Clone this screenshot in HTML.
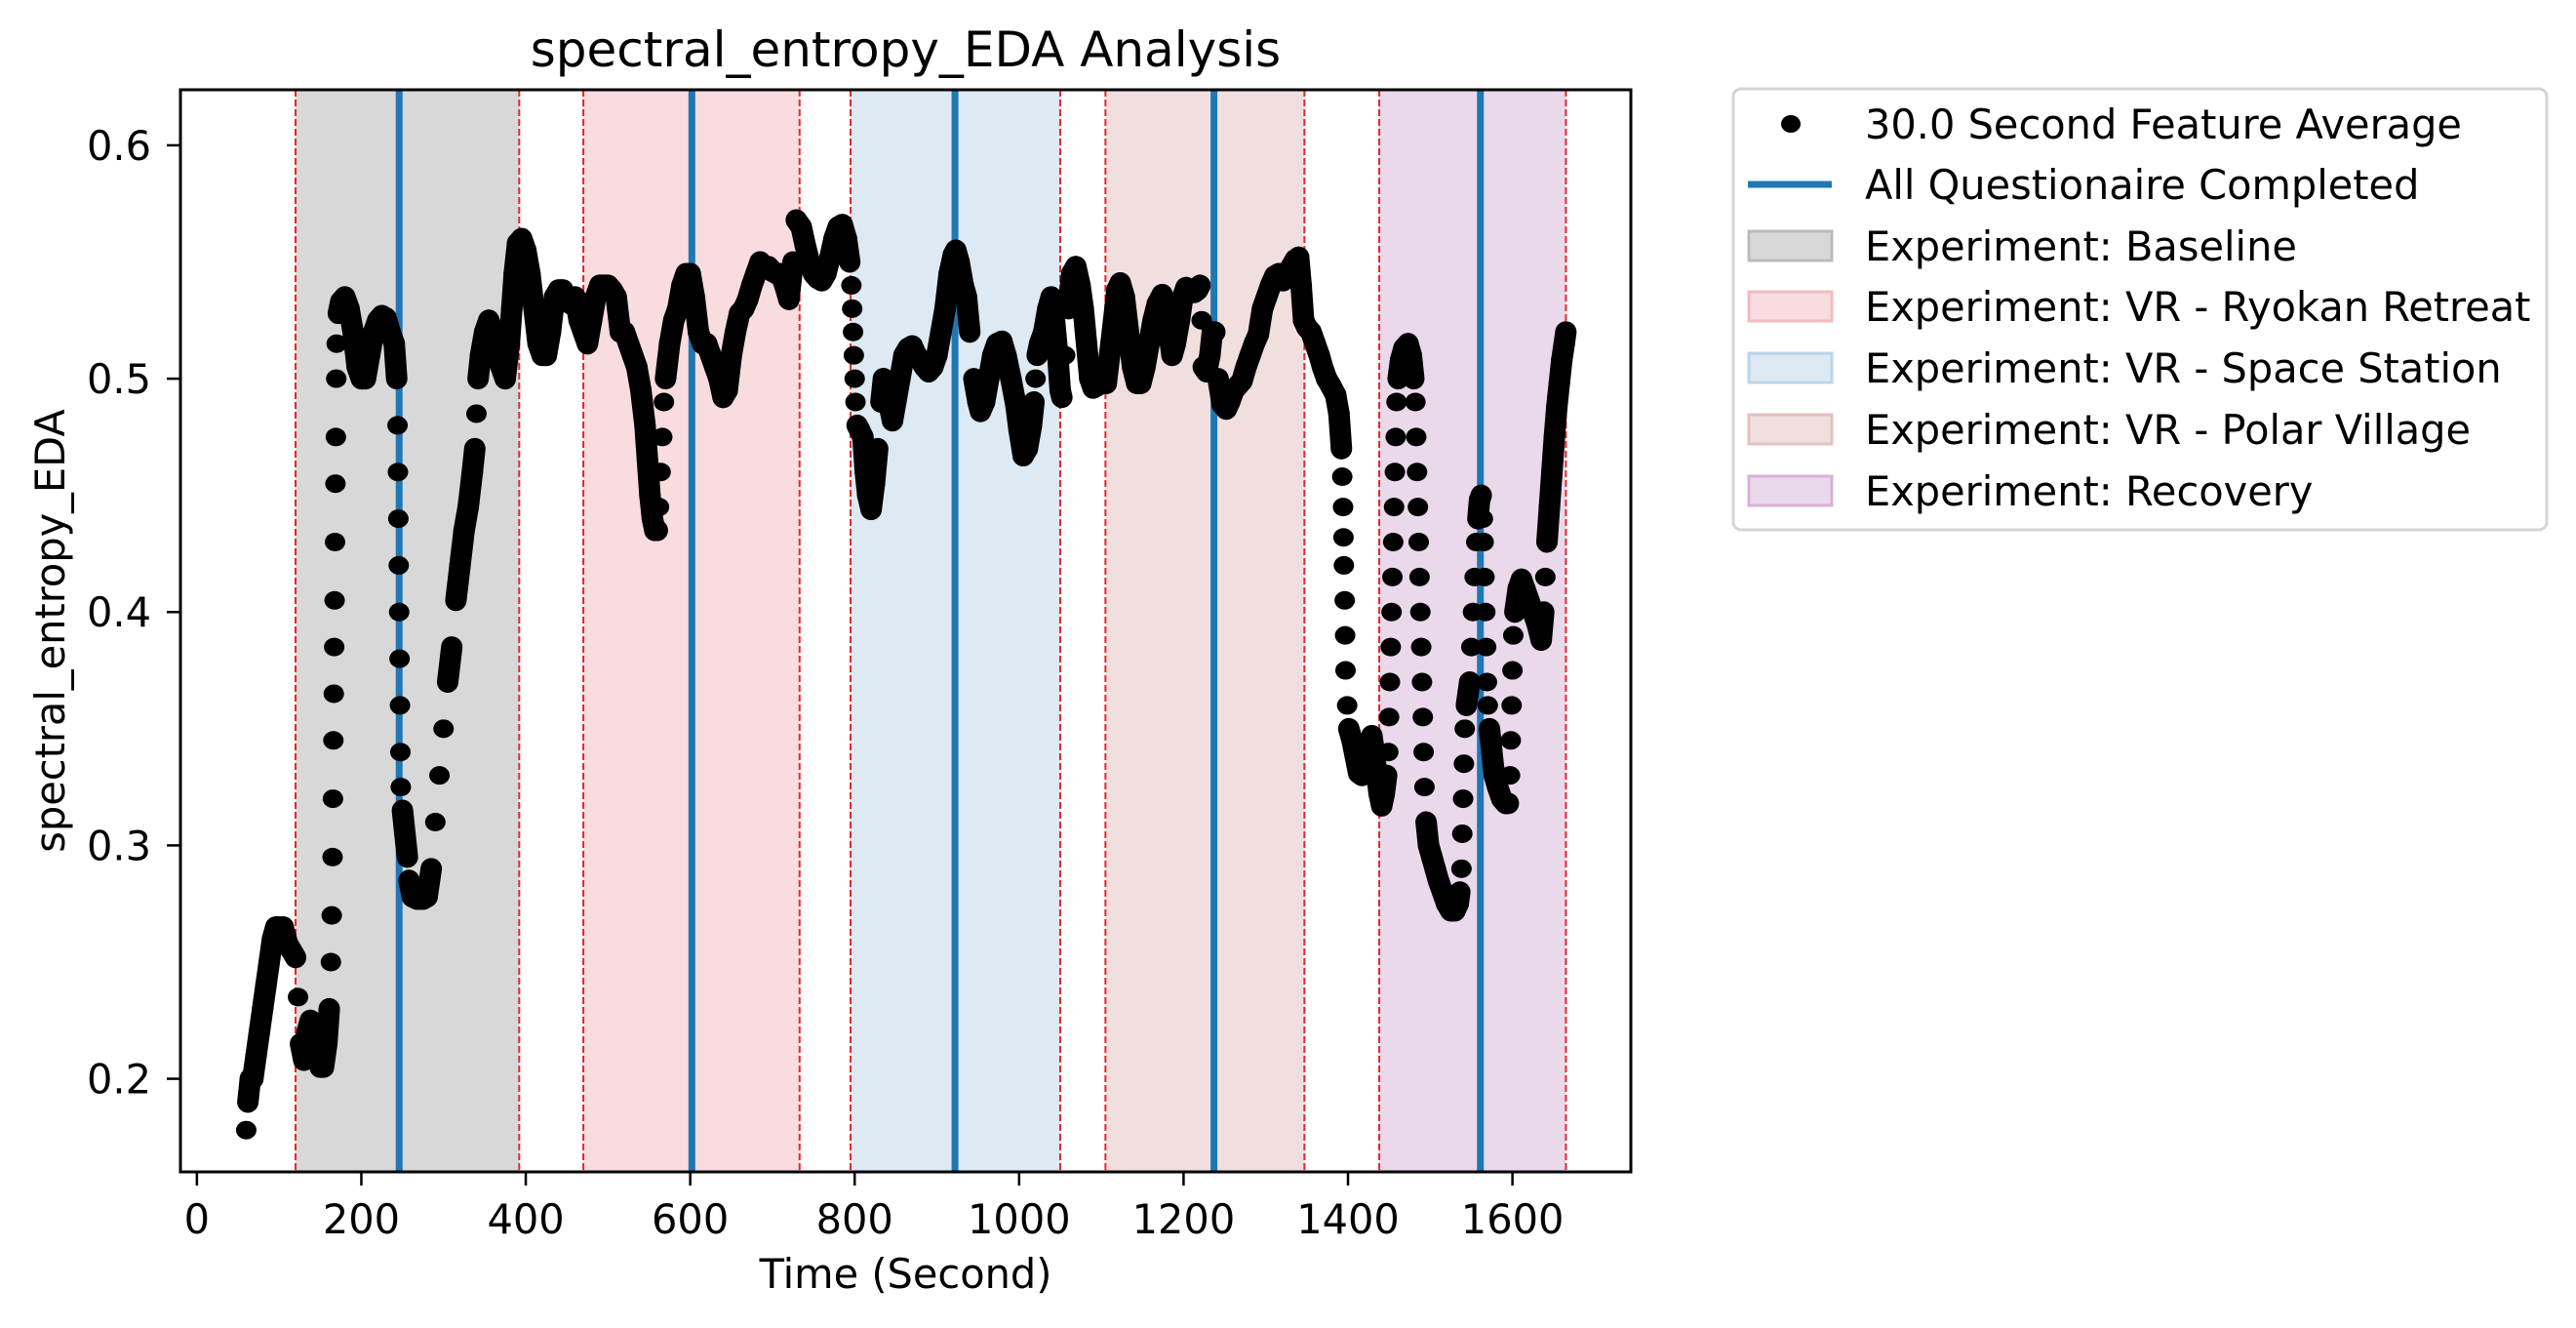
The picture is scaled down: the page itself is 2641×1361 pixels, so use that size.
<!DOCTYPE html>
<html><head><meta charset="utf-8"><style>
html,body{margin:0;padding:0;background:#fff;}
svg{display:block;font-family:"DejaVu Sans","Liberation Sans",sans-serif;}
</style></head><body>
<svg id="chart" width="2641" height="1361" viewBox="0 0 2641 1361" xmlns="http://www.w3.org/2000/svg">
<rect width="2641" height="1361" fill="#fff"/>
<g id="spans"></g><g id="vlines"></g><g id="points"></g><g id="axes"></g><g id="legend"></g>
</svg>
<script>
const times = [60,62,65,68,72,76,80,84,88,92,96,100,105,110,115,120,123,126,130,134,138,142,146,150,154,158,161,163,164,165,165.5,166,166.5,167,167.5,168,168.5,169,169.5,170,172,175,180,185,190,195,200,205,210,215,220,225,230,235,240,243,244,244.5,245,245.5,246,246.5,247,247.5,248,250,253,256,258,262,268,275,280,285,290,295,300,305,310,315,320,325,330,335,338,340,342,345,350,355,360,365,370,375,380,383,386,390,395,400,405,410,415,420,425,430,435,440,445,450,455,460,465,470,475,480,485,490,495,500,505,510,515,520,525,530,535,540,545,548,551,554,557,560,562,564,566,568,570,575,580,585,590,595,600,605,610,615,620,625,630,635,640,645,650,655,660,665,670,675,680,685,690,695,700,705,710,715,720,725,729,735,740,745,750,755,760,765,770,775,780,785,790,794,796,797,798,799,800,801,803,806,810,813,816,820,824,828,832,835,840,846,850,855,860,865,870,875,880,885,890,895,900,905,910,915,920,923,927,932,936,940,945,950,953,958,963,968,973,979,984,990,996,1000,1005,1010,1015,1018,1020,1022,1025,1030,1035,1039,1043,1047,1050,1052,1056,1060,1064,1069,1074,1078,1082,1086,1090,1095,1100,1106,1110,1115,1119,1123,1128,1133,1138,1143,1148,1153,1158,1163,1168,1174,1178,1182,1186,1190,1195,1199,1203,1208,1213,1217,1220,1222,1224,1228,1232,1235,1238,1242,1247,1252,1256,1261,1266,1271,1276,1281,1286,1291,1296,1301,1306,1311,1316,1321,1326,1331,1336,1340,1343,1346,1350,1355,1360,1365,1369,1374,1379,1385,1389,1392,1393,1394,1394.5,1395,1396,1396.5,1397,1399,1401,1405,1409,1413,1417,1421,1425,1429,1432,1435,1438,1441,1444,1447,1449,1450,1451,1452,1453,1454,1455,1456,1457,1458,1459,1461,1464,1468,1473,1477,1480,1482,1483,1484,1485,1486,1487,1488,1489,1490,1491,1492,1493,1495,1498,1502,1506,1510,1515,1520,1525,1530,1534,1536,1538,1539,1540,1541,1542,1544,1546,1548,1550,1552,1554,1556,1558,1560,1562,1564,1565,1566,1567,1568,1569,1570,1572,1575,1578,1582,1587,1592,1595,1597,1598,1599,1600,1601,1603,1607,1611,1615,1620,1625,1630,1635,1638,1640,1642,1645,1648,1651,1654,1657,1660,1663,1665];
const values = [.178,.19,.20,.20,.21,.22,.23,.24,.25,.26,.265,.265,.265,.258,.255,.252,.235,.215,.208,.22,.225,.21,.21,.205,.205,.215,.23,.25,.27,.295,.32,.345,.365,.385,.405,.43,.455,.475,.50,.515,.528,.533,.535,.53,.52,.505,.50,.50,.51,.52,.525,.527,.526,.52,.515,.50,.48,.46,.44,.42,.40,.38,.36,.34,.325,.315,.305,.295,.285,.278,.277,.277,.278,.29,.31,.33,.35,.37,.385,.405,.42,.435,.445,.46,.47,.485,.50,.51,.52,.525,.52,.51,.505,.50,.515,.53,.545,.558,.56,.555,.545,.53,.515,.51,.51,.52,.535,.538,.538,.535,.532,.535,.525,.52,.515,.525,.535,.54,.54,.54,.538,.535,.52,.52,.515,.51,.505,.495,.48,.465,.45,.44,.435,.435,.445,.46,.475,.49,.50,.515,.525,.53,.54,.545,.545,.535,.52,.515,.515,.51,.505,.50,.492,.495,.51,.52,.528,.53,.534,.54,.545,.55,.548,.548,.546,.545,.545,.54,.534,.55,.568,.565,.557,.55,.545,.543,.542,.545,.552,.56,.565,.566,.56,.55,.54,.53,.52,.51,.50,.49,.48,.478,.475,.46,.45,.444,.455,.47,.49,.50,.492,.482,.49,.50,.51,.513,.514,.51,.508,.505,.503,.505,.51,.52,.53,.545,.553,.555,.55,.54,.535,.52,.50,.49,.486,.49,.50,.51,.515,.516,.51,.50,.489,.478,.467,.47,.48,.49,.50,.51,.515,.52,.53,.535,.525,.51,.495,.492,.51,.53,.545,.548,.54,.53,.515,.50,.496,.497,.498,.498,.51,.525,.538,.541,.535,.52,.505,.498,.498,.505,.515,.525,.532,.536,.53,.52,.51,.515,.525,.535,.539,.538,.537,.538,.54,.525,.505,.503,.51,.52,.52,.50,.489,.487,.49,.495,.497,.499,.505,.51,.515,.519,.53,.535,.54,.544,.545,.542,.544,.548,.551,.552,.54,.525,.522,.52,.515,.51,.505,.50,.497,.493,.485,.47,.458,.445,.432,.42,.405,.39,.375,.36,.35,.345,.338,.331,.33,.335,.34,.347,.34,.33,.322,.317,.322,.33,.34,.355,.37,.385,.40,.415,.43,.445,.46,.475,.49,.50,.508,.513,.515,.51,.50,.49,.475,.46,.445,.43,.415,.40,.385,.37,.355,.34,.325,.31,.30,.295,.29,.285,.28,.275,.272,.272,.275,.28,.29,.305,.32,.335,.35,.36,.365,.37,.385,.40,.415,.43,.44,.448,.45,.44,.43,.415,.40,.385,.37,.36,.35,.34,.33,.325,.32,.318,.318,.33,.345,.36,.375,.39,.40,.41,.414,.41,.405,.40,.395,.388,.40,.415,.43,.445,.46,.475,.488,.498,.508,.515,.52];
const spanStarts = [120,470,795,1105,1438];
const spanEnds = [392,733,1050,1347,1665];
const spanLabels = ["Experiment: Baseline","Experiment: VR - Ryokan Retreat","Experiment: VR - Space Station","Experiment: VR - Polar Village","Experiment: Recovery"];
const questionnaireTimes = [246,602,922,1237,1561];
const xTicks = [0,200,400,600,800,1000,1200,1400,1600];
const yTicks = [0.2,0.3,0.4,0.5,0.6];

const spanColors = ["#d8d8d8","#f8dcdf","#dde9f3","#f1dfdf","#ead8eb"];
const spanEdges = ["#bbbbbb","#f0bcc0","#bcd4e8","#e4c0c0","#d8b0d8"];
const L=185,R=1672,T=92,B=1201,XMIN=-20,XMAX=1744,YMIN=0.1601,YMAX=0.6238;
const FS=41.5;
const NS="http://www.w3.org/2000/svg";
function xs(t){return L+(t-XMIN)/(XMAX-XMIN)*(R-L);}
function ys(v){return B-(v-YMIN)/(YMAX-YMIN)*(B-T);}
function mk(tag,attrs,parent,text){const e=document.createElementNS(NS,tag);for(const k in attrs)e.setAttribute(k,attrs[k]);if(text!==undefined)e.textContent=text;parent.appendChild(e);return e;}

const gS=document.getElementById('spans');
spanStarts.forEach((s,i)=>{
  const r=mk('rect',{x:xs(s),y:T,width:xs(spanEnds[i])-xs(s),height:B-T,fill:spanColors[i]},gS);
  
  
  [s,spanEnds[i]].forEach(t=>{
    const l=mk('line',{x1:xs(t),x2:xs(t),y1:T,y2:B,stroke:'#e8262a','stroke-width':2,'stroke-dasharray':'7 3'},gS);
    
    
  });
});
const gV=document.getElementById('vlines');
questionnaireTimes.forEach(t=>{
  const l=mk('line',{x1:xs(t),x2:xs(t),y1:T,y2:B,stroke:'#1f77b4','stroke-width':7},gV);
  
  
});
const gP=document.getElementById('points');
// dense sampling in the original renders as a continuous band where consecutive samples are close
for(let i=1;i<times.length;i++){
  const x1=xs(times[i-1]),y1=ys(values[i-1]),x2=xs(times[i]),y2=ys(values[i]);
  const dy=Math.abs(y2-y1), dt=times[i]-times[i-1];
  if(dy<20 || (dy<40 && dt>=3)){
    const s=mk('line',{x1:x1,y1:y1,x2:x2,y2:y2,stroke:'#000','stroke-width':22,'stroke-linecap':'round'},gP);
    
    
  }
}
times.forEach((t,i)=>{
  const c=mk('ellipse',{cx:xs(t),cy:ys(values[i]),rx:10.5,ry:9.5,fill:'#000'},gP);
  
  
});
const gA=document.getElementById('axes');
const fr=mk('rect',{x:L,y:T,width:R-L,height:B-T,fill:'none',stroke:'#000','stroke-width':3},gA);


xTicks.forEach(v=>{
  const x=xs(v);
  mk('line',{x1:x,x2:x,y1:B,y2:B+14,stroke:'#000','stroke-width':2.5},gA);
  const tx=mk('text',{x:x,y:1264,'font-size':FS,'text-anchor':'middle'},gA,String(v));
  
  
});
yTicks.forEach(v=>{
  const y=ys(v);
  mk('line',{x1:L-14,x2:L,y1:y,y2:y,stroke:'#000','stroke-width':2.5},gA);
  const tx=mk('text',{x:155,y:y+15,'font-size':FS,'text-anchor':'end'},gA,v.toFixed(1));
  
  
});
const xt=mk('text',{x:(L+R)/2,y:1320,'font-size':FS,'text-anchor':'middle'},gA,'Time (Second)');


const yt=mk('text',{x:0,y:0,'font-size':FS,'text-anchor':'middle',transform:'translate(66,'+((T+B)/2)+') rotate(-90)'},gA,'spectral_entropy_EDA');


const ti=mk('text',{x:(L+R)/2,y:68,'font-size':50,'text-anchor':'middle'},gA,'spectral_entropy_EDA Analysis');



const gL=document.getElementById('legend');
const lb=mk('rect',{x:1777,y:91,width:834,height:452,rx:8,fill:'#fff',stroke:'#d4d4d4','stroke-width':3},gL);


const rowY=[127,189,252,314,377,440,503];
const labels=["30.0 Second Feature Average","All Questionaire Completed"].concat(spanLabels);
labels.forEach((lab,i)=>{
  const y=rowY[i];
  if(i===0){mk('ellipse',{cx:1836,cy:y,rx:10,ry:9,fill:'#000'},gL);}
  else if(i===1){mk('line',{x1:1792,x2:1878,y1:y,y2:y,stroke:'#1f77b4','stroke-width':7},gL);}
  else{mk('rect',{x:1793,y:y-15,width:85,height:30,fill:spanColors[i-2],stroke:spanEdges[i-2],'stroke-width':3},gL);}
  const tx=mk('text',{x:1912,y:y+15,'font-size':FS},gL,lab);
  
  
});
</script>
</body></html>
